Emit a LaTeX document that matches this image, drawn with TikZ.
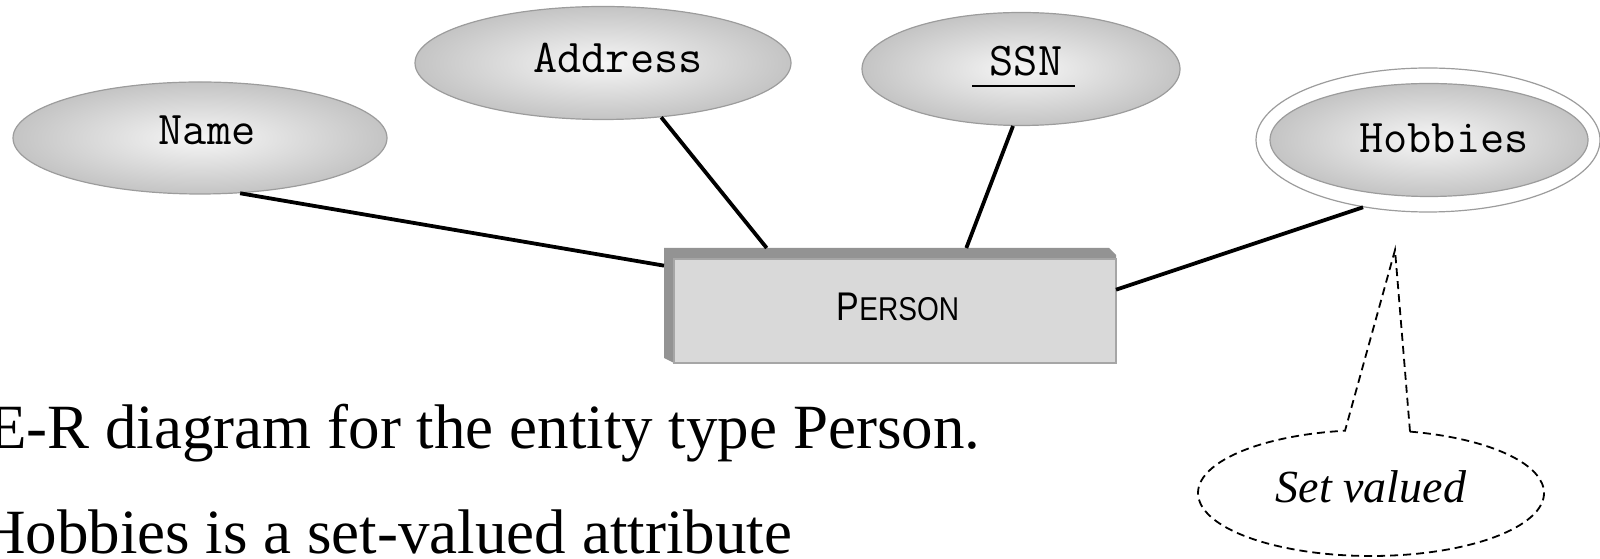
\documentclass[tikz,border=0pt]{standalone}
\usepackage{fontspec}
\usepackage{graphicx}
\setmainfont{Liberation Serif}
\newfontfamily\sansf{Liberation Sans}
\usetikzlibrary{shapes.geometric,calc}
\definecolor{attredge}{HTML}{9C9C9C}
\definecolor{attrin}{HTML}{F6F6F6}
\definecolor{attrout}{HTML}{C4C4C4}
\definecolor{bandgray}{HTML}{939393}
\definecolor{facegray}{HTML}{D9D9D9}
\definecolor{faceedge}{HTML}{A6A6A6}
\tikzset{
  attr/.style={ellipse, draw=attredge, line width=1.2pt, inner color=attrin, outer color=attrout, inner sep=0pt},
  attrtext/.style={font=\ttfamily\fontsize{47}{47}\selectfont, anchor=base, inner sep=0pt},
  conn/.style={line width=3.8pt, draw=black},
  calloutline/.style={dash pattern=on 8pt off 5pt, line width=1.8pt},
  captext/.style={anchor=base west, inner sep=0pt, font=\fontsize{63}{63}\selectfont},
}
\begin{document}
\begin{tikzpicture}[x=1pt,y=1pt]
\useasboundingbox (0,0) rectangle (1600,559);
% attributes
\node[attr, minimum width=374pt, minimum height=112pt] (name) at (200,421) {};
\node[attrtext] (namet) at (207,414) {Name};
\node[attr, minimum width=376pt, minimum height=113pt] (addr) at (603,496) {};
\node[attrtext] (addrt) at (618,486) {Address};
\node[attr, minimum width=318pt, minimum height=113pt] (ssn) at (1021,490) {};
\node[attrtext] (ssnt) at (1026,483) {SSN};
\draw[line width=1.8pt] ($(ssnt.base)+(-54,-10)$) -- ($(ssnt.base)+(49,-10)$);
\node[ellipse, draw=attredge, line width=1.2pt, fill=white, minimum width=344pt, minimum height=144pt, inner sep=0pt] (hobo) at (1428,419) {};
\node[attr, minimum width=318pt, minimum height=113pt] (hob) at (1429,419) {};
\node[attrtext] (hobt) at (1444,406) {Hobbies};
% entity
\node[minimum width=452pt, minimum height=115pt, inner sep=0pt, outer sep=0pt] (person) at (890,253.5) {};
\fill[bandgray] (674,196) -- (664,201) -- (664,311) -- (1109,311) -- (1116,304) -- (1116,196) -- cycle;
\filldraw[fill=facegray, draw=faceedge, line width=1.2pt] (674,196) rectangle (1116,300);
\node[font=\sansf, anchor=base, inner sep=0pt] (ptext) at (898,238) {\scalebox{0.85}[1]{\fontsize{40}{40}\selectfont P\fontsize{33}{33}\selectfont ERSON}};
% connectors
\draw[conn] (name.-54) -- (person.170.6);
\draw[conn] (addr.-43.5) -- (person.155.6);
\draw[conn] (ssn.-98) -- (person.37.5);
\draw[conn] (hobo.-134) -- (person.4.2);
% callout
\node[ellipse, minimum width=346pt, minimum height=126pt, inner sep=0pt] (sv) at (1371,66) {};
\node[font=\itshape\fontsize{46}{46}\selectfont, anchor=base, inner sep=0pt] (svt) at (1371,56) {Set valued};
\coordinate (tip) at (1395,309);
\draw[calloutline] ($(sv.center)+(76.97:173pt and 63pt)$) -- (tip) -- ($(sv.center)+(98.64:173pt and 63pt)$) arc[start angle=98.64, end angle=436.97, x radius=173pt, y radius=63pt];
% caption
\node[captext] (cap1) at (-12,110) {E-R diagram for the entity type Person.};
\node[captext] (cap2) at (-20,5) {Hobbies is a set-valued attribute};
\end{tikzpicture}
\end{document}
